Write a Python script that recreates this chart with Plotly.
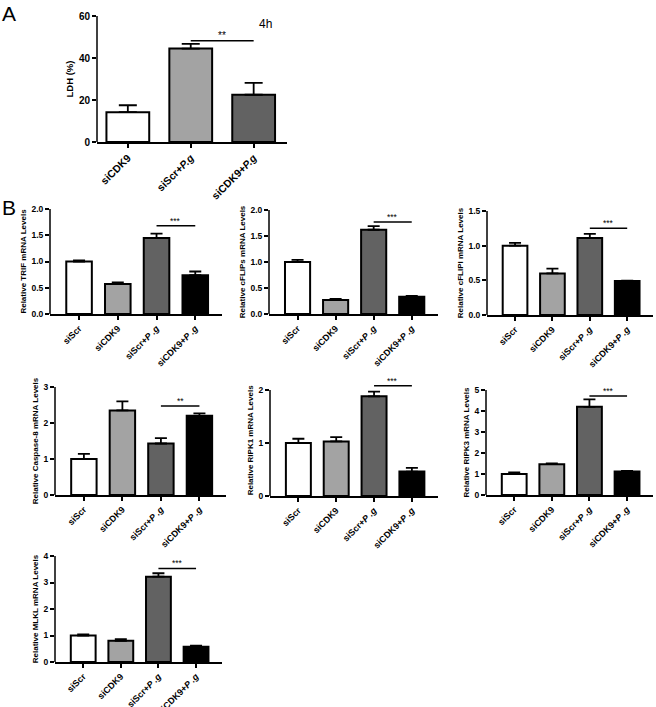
import plotly.graph_objects as go

W, H = 656, 707

# painel A - LDH 4h
grupos_a = ["siCDK9", "siScr+P.g", "siCDK9+P.g"]
rotulos_a = ["siCDK9", "siScr+<i>P.g</i>", "siCDK9+<i>P.g</i>"]
ldh = [14.2, 44.5, 22.5]
ldh_err = [3.3, 2.2, 5.7]

# painel B - mRNA relativo
grupos_b = ["siScr", "siCDK9", "siScr+P.g", "siCDK9+P.g"]
rotulos_b = ["siScr", "siCDK9", "siScr+<i>P .g</i>", "siCDK9+<i>P .g</i>"]

trif = [1.0, 0.57, 1.45, 0.74]
trif_err = [0.02, 0.03, 0.08, 0.07]
cflips = [1.0, 0.27, 1.62, 0.33]
cflips_err = [0.04, 0.02, 0.07, 0.02]
cflipl = [1.0, 0.60, 1.11, 0.49]
cflipl_err = [0.04, 0.07, 0.06, 0.005]
casp8 = [1.0, 2.35, 1.43, 2.20]
casp8_err = [0.14, 0.25, 0.15, 0.07]
ripk1 = [1.0, 1.03, 1.88, 0.46]
ripk1_err = [0.08, 0.08, 0.09, 0.07]
ripk3 = [1.0, 1.47, 4.20, 1.12]
ripk3_err = [0.08, 0.03, 0.35, 0.03]
mlkl = [1.0, 0.80, 3.22, 0.58]
mlkl_err = [0.04, 0.06, 0.13, 0.04]

cores_a = ["white", "#a3a3a3", "#626262"]
cores_b = ["white", "#a3a3a3", "#626262", "black"]

FONTE = "Liberation Sans, Arial, sans-serif"

# (x esq, x dir, y do zero, y do tick maximo) em pixels
paineis = [
    dict(grupos=grupos_a, rotulos=rotulos_a, valores=ldh, erros=ldh_err, cores=cores_a,
         titulo="LDH (%)", ticks=[0, 20, 40, 60], fmt="d", sig=48.2, estrelas="**",
         sig_x=(1, 2), px=(97, 287, 142, 16), xr=(-0.49, 2.53), fs=10, fsx=10.5,
         fst=9.5, cap=9),
    dict(grupos=grupos_b, rotulos=rotulos_b, valores=trif, erros=trif_err, cores=cores_b,
         titulo="Relative TRIF mRNA Levels", ticks=[0, 0.5, 1.0, 1.5, 2.0], fmt=".1f",
         sig=1.68, estrelas="***", sig_x=(2, 3), px=(50, 222, 314, 209)),
    dict(grupos=grupos_b, rotulos=rotulos_b, valores=cflips, erros=cflips_err, cores=cores_b,
         titulo="Relative cFLIPs mRNA Levels", ticks=[0, 0.5, 1.0, 1.5, 2.0], fmt=".1f",
         sig=1.77, estrelas="***", sig_x=(2, 3), px=(269, 438, 314, 210)),
    dict(grupos=grupos_b, rotulos=rotulos_b, valores=cflipl, erros=cflipl_err, cores=cores_b,
         titulo="Relative cFLIPl mRNA Levels", ticks=[0, 0.5, 1.0, 1.5], fmt=".1f",
         sig=1.25, estrelas="***", sig_x=(2, 3), px=(487, 653, 315, 211)),
    dict(grupos=grupos_b, rotulos=rotulos_b, valores=casp8, erros=casp8_err, cores=cores_b,
         titulo="Relative Caspase-8 mRNA Levels", ticks=[0, 1, 2, 3], fmt="d",
         sig=2.47, estrelas="**", sig_x=(2, 3), px=(55, 226, 495, 387)),
    dict(grupos=grupos_b, rotulos=rotulos_b, valores=ripk1, erros=ripk1_err, cores=cores_b,
         titulo="Relative RIPK1 mRNA Levels", ticks=[0, 1, 2], fmt="d",
         sig=2.08, estrelas="***", sig_x=(2, 3), px=(270, 438, 496, 390)),
    dict(grupos=grupos_b, rotulos=rotulos_b, valores=ripk3, erros=ripk3_err, cores=cores_b,
         titulo="Relative RIPK3 mRNA Levels", ticks=[0, 1, 2, 3, 4, 5], fmt="d",
         sig=4.71, estrelas="***", sig_x=(2, 3), px=(486, 653, 495, 390)),
    dict(grupos=grupos_b, rotulos=rotulos_b, valores=mlkl, erros=mlkl_err, cores=cores_b,
         titulo="Relative MLKL mRNA Levels", ticks=[0, 1, 2, 3, 4], fmt="d",
         sig=3.53, estrelas="***", sig_x=(2, 3), px=(55, 222, 662, 556)),
]

fig = go.Figure()
shapes = []
anots = []

for i, p in enumerate(paineis, start=1):
    sx = "" if i == 1 else str(i)
    xl, xr, y0, yt = p["px"]
    tmax = p["ticks"][-1]
    escala = (y0 - yt) / tmax
    rtop = max(tmax, p["sig"] * 1.01)
    fs = p.get("fs", 8.5)
    fsx = p.get("fsx", 9)
    fst = p.get("fst", 8)

    fig.add_trace(go.Bar(
        x=p["grupos"], y=p["valores"],
        marker=dict(color=p["cores"], line=dict(color="black", width=2)),
        width=0.66 if len(p["grupos"]) == 4 else 0.68,
        error_y=dict(type="data", symmetric=False, array=p["erros"],
                     arrayminus=[0] * len(p["erros"]), color="black",
                     thickness=1.8, width=p.get("cap", 6)),
        xaxis="x" + sx, yaxis="y" + sx, showlegend=False,
    ))

    fig.layout["xaxis" + sx] = dict(
        domain=[xl / W, xr / W], anchor="y" + sx, automargin=False,
        range=list(p.get("xr", (-0.75, 3.69))),
        tickvals=p["grupos"], ticktext=p["rotulos"], tickangle=-45,
        showline=True, linecolor="black", linewidth=1.5,
        ticks="outside", ticklen=4, tickcolor="black", tickwidth=1.5,
        tickfont=dict(family=FONTE, size=fsx, color="black", weight="bold"),
        showgrid=False, zeroline=False, fixedrange=True,
    )
    fig.layout["yaxis" + sx] = dict(
        domain=[1 - y0 / H, 1 - (y0 - rtop * escala) / H], anchor="x" + sx,
        automargin=False,
        range=[0, rtop], tickvals=p["ticks"], tickformat=p["fmt"],
        showline=False, ticks="outside", ticklen=4, tickcolor="black", tickwidth=1.5,
        tickfont=dict(family=FONTE, size=fs, color="black", weight="bold"),
        title=dict(text=p["titulo"], standoff=3,
                   font=dict(family=FONTE, size=fst, color="black", weight="bold")),
        showgrid=False, zeroline=False, fixedrange=True,
    )

    # eixo y só até o tick máximo (estilo GraphPad)
    shapes.append(dict(type="line", xref="x" + sx + " domain", yref="y" + sx,
                       x0=0, x1=0, y0=0, y1=tmax, line=dict(color="black", width=1.5)))
    # linha de significância
    a, b = p["sig_x"]
    shapes.append(dict(type="line", xref="x" + sx, yref="y" + sx,
                       x0=a, x1=b, y0=p["sig"], y1=p["sig"],
                       line=dict(color="black", width=1.5)))
    anots.append(dict(xref="x" + sx, yref="y" + sx, x=(a + b) / 2, y=p["sig"],
                      text=p["estrelas"], showarrow=False, yanchor="bottom", yshift=-2,
                      font=dict(family=FONTE, size=fs, color="black")))

anots += [
    dict(xref="paper", yref="paper", x=0, y=1 - 0 / H, text="A", showarrow=False,
         xanchor="left", yanchor="top", font=dict(family=FONTE, size=21, color="black")),
    dict(xref="paper", yref="paper", x=0, y=1 - 194 / H, text="B", showarrow=False,
         xanchor="left", yanchor="top", font=dict(family=FONTE, size=21, color="black")),
    dict(xref="paper", yref="paper", x=257 / W, y=1 - 15 / H, text="4h", showarrow=False,
         xanchor="left", yanchor="top", font=dict(family=FONTE, size=12, color="black")),
]

fig.update_layout(
    width=W, height=H,
    margin=dict(l=0, r=0, t=0, b=0),
    paper_bgcolor="white", plot_bgcolor="white",
    shapes=shapes, annotations=anots,
)

# sem margem no body para a figura caber 1:1 na janela
fig.write_html("out.html", config={"displayModeBar": False},
               post_script="document.body.style.margin = '0';")
